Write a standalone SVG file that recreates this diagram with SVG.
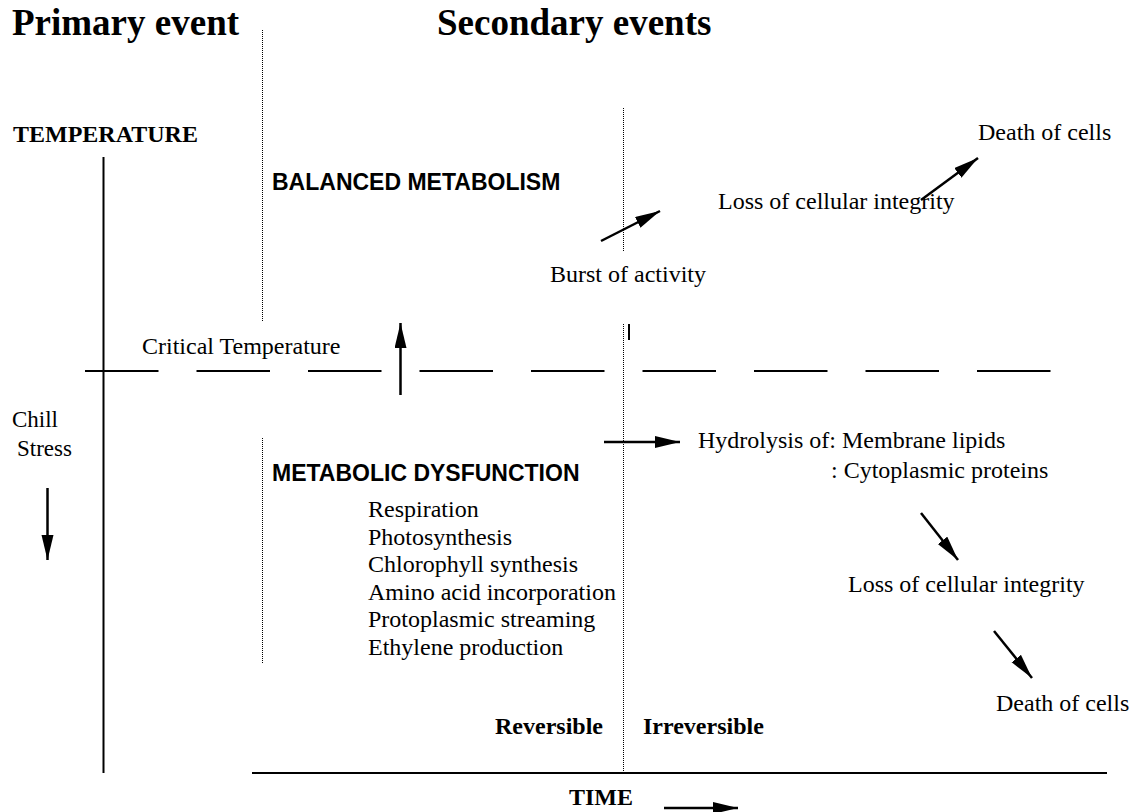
<svg xmlns="http://www.w3.org/2000/svg" width="1139" height="812" viewBox="0 0 1139 812">
<style>
.serif{font-family:"Liberation Serif","Times New Roman",serif;font-size:24px;fill:#000}
.small{font-size:23px}
.bserif{font-family:"Liberation Serif","Times New Roman",serif;font-weight:bold;font-size:24px;fill:#000}
.head{font-family:"Liberation Serif","Times New Roman",serif;font-weight:bold;font-size:37px;fill:#000}
.bsans{font-family:"Liberation Sans",Arial,sans-serif;font-weight:bold;font-size:23px;fill:#000}
.solid{stroke:#000;stroke-width:2;fill:none}
.dot{stroke:#000;stroke-width:1;stroke-dasharray:1 1;fill:none}
.dash{stroke:#000;stroke-width:2;stroke-dasharray:73.5 38;fill:none}
.arr{stroke:#000;stroke-width:2.5;fill:none;marker-end:url(#ah)}
</style>
<defs>
<marker id="ah" markerUnits="userSpaceOnUse" markerWidth="28" markerHeight="14" refX="25" refY="6" orient="auto">
<path d="M0,0 L25,6 L0,12 Z" fill="#000"/>
</marker>
</defs>
<rect width="1139" height="812" fill="#fff"/>

<g id="titles">
<text class="head" x="12" y="35">Primary event</text>
<text class="head" x="437" y="35">Secondary events</text>
</g>

<g id="axes">
<line class="solid" x1="103.5" y1="157" x2="103.5" y2="773"/>
<line class="solid" x1="252" y1="773" x2="1107" y2="773"/>
<line class="dash" x1="85" y1="371" x2="1053" y2="371"/>
<line class="dot" x1="262.5" y1="30" x2="262.5" y2="322"/>
<line class="dot" x1="262.5" y1="438" x2="262.5" y2="664"/>
<line class="dot" x1="623.5" y1="108" x2="623.5" y2="252"/>
<line class="dot" x1="623.5" y1="324" x2="623.5" y2="772"/>
<line class="solid" x1="629" y1="324" x2="629" y2="340"/>
</g>

<g id="labels-left">
<text class="bserif" x="13" y="142">TEMPERATURE</text>
<text class="serif" x="142" y="354">Critical Temperature</text>
<text class="serif small" x="12" y="427">Chill</text>
<text class="serif small" x="17" y="456">Stress</text>
</g>

<g id="balanced">
<text class="bsans" x="272" y="190">BALANCED METABOLISM</text>
</g>

<g id="dysfunction">
<text class="bsans" x="272" y="481">METABOLIC DYSFUNCTION</text>
<text class="serif" x="368" y="517">Respiration</text>
<text class="serif" x="368" y="545">Photosynthesis</text>
<text class="serif" x="368" y="572">Chlorophyll synthesis</text>
<text class="serif" x="368" y="600">Amino acid incorporation</text>
<text class="serif" x="368" y="627">Protoplasmic streaming</text>
<text class="serif" x="368" y="655">Ethylene production</text>
</g>

<g id="upper-events">
<text class="serif" x="550" y="282">Burst of activity</text>
<text class="serif" x="718" y="209">Loss of cellular integrity</text>
<text class="serif" x="978" y="140">Death of cells</text>
</g>

<g id="lower-events">
<text class="serif" x="698" y="448">Hydrolysis of: Membrane lipids</text>
<text class="serif" x="831" y="478">: Cytoplasmic proteins</text>
<text class="serif" x="848" y="592">Loss of cellular integrity</text>
<text class="serif" x="996" y="711">Death of cells</text>
</g>

<g id="phase-labels">
<text class="bserif" x="495" y="734">Reversible</text>
<text class="bserif" x="643" y="734">Irreversible</text>
<text class="bserif" x="569" y="805">TIME</text>
</g>

<g id="connectors">
<line class="arr" x1="400.5" y1="395" x2="400.5" y2="323"/>
<line class="arr" x1="47.5" y1="488" x2="47.5" y2="560"/>
<line class="arr" x1="601" y1="241" x2="660" y2="211"/>
<line class="arr" x1="921" y1="200" x2="978" y2="158"/>
<line class="arr" x1="604" y1="442" x2="680" y2="442"/>
<line class="arr" x1="921" y1="513" x2="958" y2="560"/>
<line class="arr" x1="994" y1="631" x2="1032" y2="678"/>
<line class="arr" x1="664" y1="808" x2="738" y2="808"/>
</g>
</svg>
